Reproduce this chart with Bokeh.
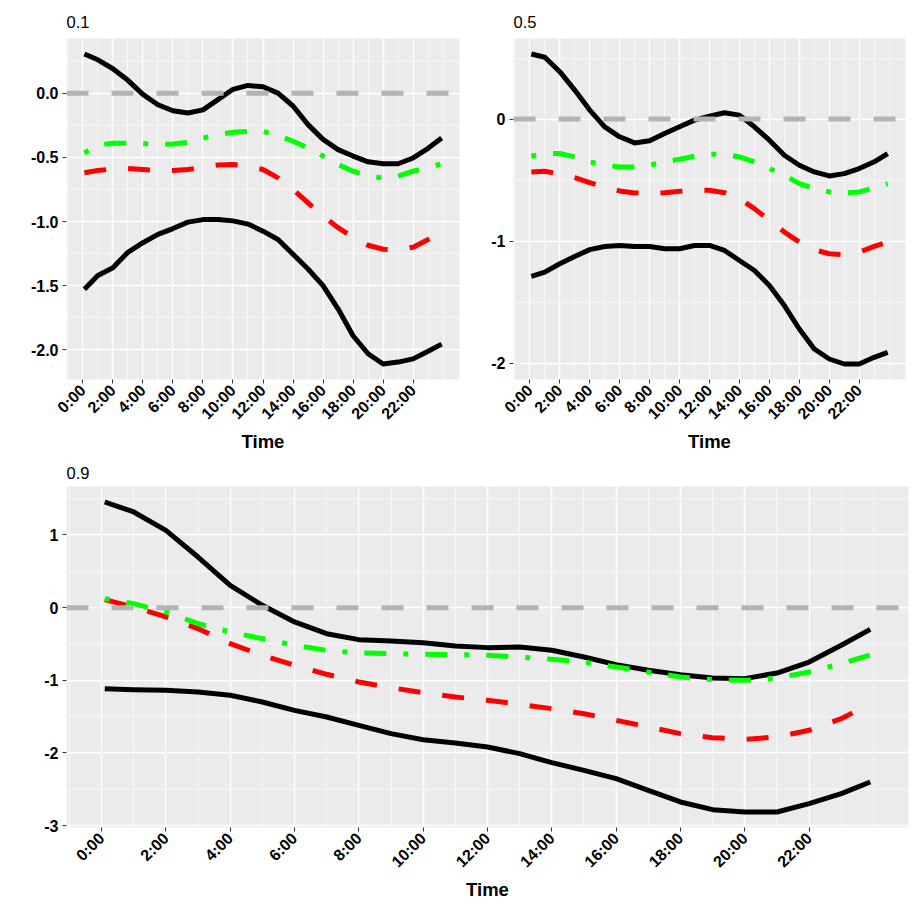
import math
from bokeh.plotting import figure
from bokeh.layouts import column, row
from bokeh.models import FixedTicker, Span, CustomJSTickFormatter, Range1d
from bokeh.embed import file_html
from bokeh.resources import INLINE

# ---------------- data ----------------
hours = [0.1, 1, 2, 3, 4, 5, 6, 7, 8, 9, 10, 11, 12, 13, 14, 15, 16, 17,
         18, 19, 20, 21, 22, 23, 23.9]

# panel "0.1"
p01_upper = [0.305, 0.26, 0.19, 0.10, -0.01, -0.09, -0.137, -0.155, -0.13, -0.05,
             0.03, 0.06, 0.05, 0.0, -0.10, -0.245, -0.36, -0.44, -0.49, -0.535,
             -0.55, -0.55, -0.505, -0.43, -0.35]
p01_lower = [-1.527, -1.42, -1.36, -1.24, -1.165, -1.10, -1.055, -1.005, -0.985, -0.985,
             -0.995, -1.02, -1.075, -1.14, -1.255, -1.37, -1.50, -1.68, -1.89, -2.03,
             -2.11, -2.095, -2.07, -2.01, -1.955]
p01_green = [-0.466, -0.406, -0.39, -0.39, -0.393, -0.40, -0.396, -0.383, -0.35, -0.323,
             -0.305, -0.298, -0.298, -0.33, -0.375, -0.427, -0.49, -0.556, -0.608, -0.647,
             -0.66, -0.647, -0.608, -0.58, -0.55]
p01_red = [-0.62, -0.603, -0.59, -0.587, -0.595, -0.603, -0.603, -0.595, -0.577, -0.56,
           -0.556, -0.57, -0.595, -0.66, -0.75, -0.855, -0.957, -1.048, -1.125, -1.185,
           -1.216, -1.22, -1.20, -1.14, -1.10]

# panel "0.5"
p05_upper = [0.534, 0.507, 0.389, 0.238, 0.074, -0.063, -0.145, -0.195, -0.178, -0.118,
             -0.063, -0.008, 0.025, 0.052, 0.033, -0.063, -0.173, -0.296, -0.378, -0.433,
             -0.466, -0.447, -0.405, -0.35, -0.282]
p05_lower = [-1.29, -1.255, -1.186, -1.126, -1.07, -1.044, -1.036, -1.044, -1.044, -1.063,
             -1.063, -1.036, -1.036, -1.077, -1.159, -1.241, -1.364, -1.529, -1.721, -1.885,
             -1.967, -2.008, -2.008, -1.953, -1.912]
p05_green = [-0.304, -0.282, -0.282, -0.31, -0.351, -0.378, -0.392, -0.392, -0.378, -0.351,
             -0.329, -0.304, -0.288, -0.288, -0.31, -0.351, -0.405, -0.46, -0.529, -0.57,
             -0.597, -0.605, -0.597, -0.564, -0.53]
p05_red = [-0.433, -0.427, -0.452, -0.479, -0.521, -0.556, -0.589, -0.605, -0.611, -0.603,
           -0.592, -0.584, -0.584, -0.603, -0.652, -0.734, -0.83, -0.926, -1.008, -1.071,
           -1.104, -1.112, -1.09, -1.044, -1.008]

# panel "0.9"
p09_upper = [1.454, 1.317, 1.064, 0.697, 0.307, 0.032, -0.197, -0.358, -0.44, -0.459,
             -0.482, -0.528, -0.55, -0.541, -0.587, -0.679, -0.784, -0.862, -0.922, -0.968,
             -0.977, -0.90, -0.748, -0.518, -0.298]
p09_lower = [-1.115, -1.128, -1.138, -1.16, -1.206, -1.298, -1.413, -1.505, -1.619, -1.734,
             -1.817, -1.862, -1.917, -2.009, -2.133, -2.239, -2.353, -2.514, -2.674, -2.78,
             -2.812, -2.812, -2.697, -2.56, -2.399]
p09_green = [0.124, 0.055, -0.06, -0.22, -0.335, -0.427, -0.518, -0.587, -0.624, -0.633,
             -0.642, -0.647, -0.656, -0.679, -0.711, -0.748, -0.817, -0.885, -0.954, -0.991,
             -1.0, -0.968, -0.885, -0.771, -0.65]
p09_red = [0.11, 0.009, -0.128, -0.289, -0.495, -0.656, -0.794, -0.917, -1.023, -1.101,
           -1.17, -1.229, -1.275, -1.33, -1.39, -1.459, -1.55, -1.642, -1.734, -1.789,
           -1.812, -1.78, -1.688, -1.528, -1.321]

x_ticks = [0, 2, 4, 6, 8, 10, 12, 14, 16, 18, 20, 22]
x_minor = [-1, 1, 3, 5, 7, 9, 11, 13, 15, 17, 19, 21, 23, 24]

y01_ticks = [-2.0, -1.5, -1.0, -0.5, 0.0]
y01_minor = [-1.75, -1.25, -0.75, -0.25, 0.25]
y05_ticks = [-2, -1, 0]
y05_minor = [-1.5, -0.5, 0.5]
y09_ticks = [-3, -2, -1, 0, 1]
y09_minor = [-2.5, -1.5, -0.5, 0.5, 1.5]

FONT = "Liberation Sans"


def expand(vals, frac=0.05):
    lo, hi = min(vals), max(vals)
    d = (hi - lo) * frac
    return lo - d, hi + d


def panel(title, upper, lower, green, red, yticks, yminor, ydigits,
          width, height, bl, br, bt, bb, standoff):
    xlo, xhi = expand(hours)
    ylo, yhi = expand(upper + lower + green + red + [0])
    p = figure(width=width, height=height, output_backend="svg",
               toolbar_location=None,
               x_range=Range1d(xlo, xhi), y_range=Range1d(ylo, yhi),
               min_border_left=bl, min_border_right=br,
               min_border_top=bt, min_border_bottom=bb)
    p.background_fill_color = "#EBEBEB"
    p.border_fill_color = "white"
    p.outline_line_color = None

    p.title.text = title
    p.title.align = "left"
    p.title.vertical_align = "top"
    p.title.standoff = standoff
    p.title.text_font = FONT
    p.title.text_font_size = "16.5px"
    p.title.text_font_style = "normal"
    p.title.text_color = "black"

    for g in (p.xgrid, p.ygrid):
        g.grid_line_color = "white"
        g.grid_line_width = 1.3
        g.minor_grid_line_color = "white"
        g.minor_grid_line_width = 0.6

    p.xaxis.ticker = FixedTicker(ticks=x_ticks, minor_ticks=x_minor)
    p.xaxis.formatter = CustomJSTickFormatter(code="return tick.toFixed(0) + ':00';")
    p.xaxis.major_label_orientation = math.pi / 4
    p.xaxis.axis_label = "Time"
    p.yaxis.ticker = FixedTicker(ticks=yticks, minor_ticks=yminor)
    p.yaxis.formatter = CustomJSTickFormatter(
        code="return tick.toFixed(%d);" % ydigits)

    for ax in (p.xaxis, p.yaxis):
        ax.axis_line_color = None
        ax.major_tick_line_color = "#333333"
        ax.major_tick_line_width = 1
        ax.major_tick_in = 0
        ax.major_tick_out = 4
        ax.minor_tick_line_color = None
        ax.major_label_text_font = FONT
        ax.major_label_text_font_style = "bold"
        ax.major_label_text_font_size = "16px"
        ax.major_label_text_color = "black"
        ax.major_label_standoff = 4
        ax.axis_label_text_font = FONT
        ax.axis_label_text_font_style = "bold"
        ax.axis_label_text_font_size = "18.5px"
        ax.axis_label_text_color = "black"
        ax.axis_label_standoff = 0

    p.line(hours, upper, line_color="black", line_width=5, line_join="round")
    p.line(hours, lower, line_color="black", line_width=5, line_join="round")
    p.line(hours, red, line_color="#FF0000", line_width=5, line_join="round",
           line_dash="22 22")
    p.line(hours, green, line_color="#00FF00", line_width=5, line_join="round",
           line_dash="5 17 22 17")
    p.add_layout(Span(location=0, dimension="width", line_color="#B3B3B3",
                      line_width=5, line_dash="22 23"))
    return p


p1 = panel("0.1", p01_upper, p01_lower, p01_green, p01_red,
           y01_ticks, y01_minor, 1, 460, 455, 66, 1, 38, 75, 18)
p2 = panel("0.5", p05_upper, p05_lower, p05_green, p05_red,
           y05_ticks, y05_minor, 0, 452, 455, 53, 7, 38, 75, 18)
p3 = panel("0.9", p09_upper, p09_lower, p09_green, p09_red,
           y09_ticks, y09_minor, 0, 912, 448, 66, 4, 31, 75, 12)

layout = column(row(p1, p2), p3)
open("out.html", "w").write(file_html(layout, INLINE))
